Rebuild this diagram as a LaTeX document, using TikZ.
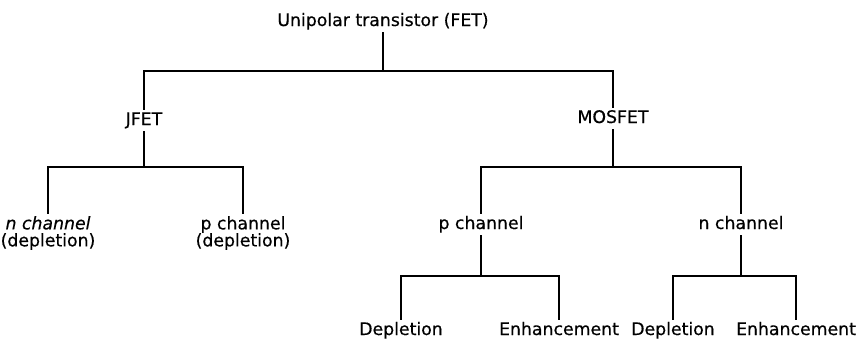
\documentclass[tikz,border=0pt]{standalone}
\usepackage{fontspec}
\newfontfamily\treefont[FakeBold=0.5]{DejaVu Sans}

\begin{document}
\begin{tikzpicture}[
                x=1pt, y=-1pt,
                font=\treefont\fontsize{17.3}{17}\selectfont,
                lbl/.style={inner sep=2pt, text height=13pt, text depth=4pt, anchor=base},
                lbltwo/.style={inner sep=2pt, align=center, anchor=north},
                tline/.style={line width=1.8pt},
            ]
            \useasboundingbox (0,0) rectangle (859,340);
            \node[lbl] (fet) at (383,26) {Unipolar transistor (FET)};
            \node[lbl] (jfet) at (144,125) {JFET};
            \node[lbl] (mosfet) at (613,123) {MOSFET};
            \node[lbltwo] (jn) at (48,214) {{\itshape n channel}\\(depletion)};
            \node[lbltwo] (jp) at (243,214) {p channel\\(depletion)};
            \node[lbl] (mp) at (481,229) {p channel};
            \node[lbl] (mn) at (741,229) {n channel};
            \node[lbl] (pdep) at (401,335) {Depletion};
            \node[lbl] (penh) at (559,335) {Enhancement};
            \node[lbl] (ndep) at (673,335) {Depletion};
            \node[lbl] (nenh) at (796,335) {Enhancement};

            % bars of the tree
            \coordinate (b0) at (0,71);
            \coordinate (b1) at (0,167);
            \coordinate (b2) at (0,276);

            \draw[tline] (fet) -- (fet |- b0) -| (jfet);
            \draw[tline] (fet |- b0) -| (mosfet);
            \draw[tline] (jfet) -- (jfet |- b1) -| (jn);
            \draw[tline] (jfet |- b1) -| (jp);
            \draw[tline] (mosfet) -- (mosfet |- b1) -| (mp);
            \draw[tline] (mosfet |- b1) -| (mn);
            \draw[tline] (mp) -- (mp |- b2) -| (pdep);
            \draw[tline] (mp |- b2) -| (penh);
            \draw[tline] (mn) -- (mn |- b2) -| (ndep);
            \draw[tline] (mn |- b2) -| (nenh);
        \end{tikzpicture}
\end{document}
